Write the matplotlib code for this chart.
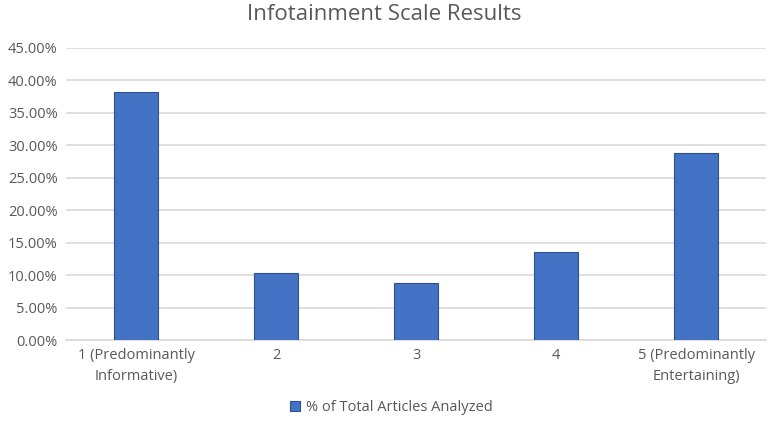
import matplotlib
matplotlib.use("Agg")
import matplotlib.pyplot as plt
from matplotlib.ticker import FuncFormatter, MultipleLocator

categories = ["1 (Predominantly\nInformative)", "2", "3", "4", "5 (Predominantly\nEntertaining)"]
values = [38.2, 10.3, 8.85, 13.5, 28.8]
series_name = "% of Total Articles Analyzed"
title = "Infotainment Scale Results"

plt.rcParams['font.family'] = ['Open Sans', 'DejaVu Sans']
fig = plt.figure(figsize=(7.68, 4.28), dpi=100)
ax = fig.add_axes([0.086, 0.2056, 0.9115, 0.6824])

x = range(len(categories))
ax.bar(x, values, width=0.31, color="#4472C4", edgecolor="#2F528F", linewidth=0.8,
       label=series_name, zorder=3)
ax.set_xlim(-0.5, len(categories) - 0.5)
ax.set_ylim(0, 45)
ax.yaxis.set_major_locator(MultipleLocator(5))
ax.yaxis.set_major_formatter(FuncFormatter(lambda v, p: f"{v:.2f}%"))
ax.set_xticks(list(x))
ax.set_xticklabels(categories, linespacing=1.5)
ax.grid(axis="y", color="#d9d9d9", linewidth=1.2, zorder=0)
for s in ["top", "right", "left"]:
    ax.spines[s].set_visible(False)
ax.spines["bottom"].set_color("#d9d9d9")
ax.spines["bottom"].set_linewidth(1.2)
ax.tick_params(axis="both", length=0, colors="#595959", labelsize=10.5, pad=6)
fig.suptitle(title, y=0.99, fontsize=16, color="#595959")
leg = fig.legend(loc="lower center", bbox_to_anchor=(0.51, 0.0), frameon=False,
                 fontsize=10.5, handlelength=0.7, handleheight=0.7, handletextpad=0.4)
for t in leg.get_texts():
    t.set_color("#595959")
fig.savefig("out.png", dpi=100)
